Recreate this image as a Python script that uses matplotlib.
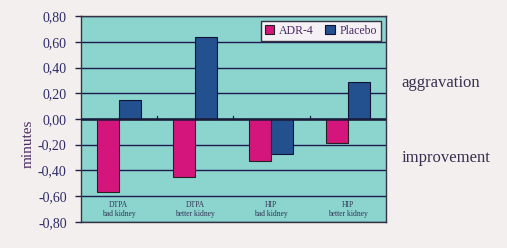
import matplotlib
matplotlib.use("Agg")
import matplotlib.pyplot as plt
import numpy as np

categories = ["DTPA\nbad kidney", "DTPA\nbetter kidney", "HIP\nbad kidney", "HIP\nbetter kidney"]
adr4 = [-0.57, -0.45, -0.33, -0.19]
placebo = [0.15, 0.64, -0.27, 0.29]
yticks = [-0.80, -0.60, -0.40, -0.20, 0.00, 0.20, 0.40, 0.60, 0.80]
ytick_labels = ["-0,80", "-0,60", "-0,40", "-0,20", "0,00", "0,20", "0,40", "0,60", "0,80"]

serif = "Liberation Serif"
navy = "#2e2a66"
bg = "#f3efee"

fig = plt.figure(figsize=(5.07, 2.48), dpi=100, facecolor=bg)
ax = fig.add_axes([0.159, 0.106, 0.602, 0.829])
ax.set_facecolor("#8cd5cf")

x = np.arange(len(categories))
w = 0.29
ax.bar(x - w / 2, adr4, w, color="#d4167c", edgecolor="#222222", linewidth=0.8, label="ADR-4", zorder=3)
ax.bar(x + w / 2, placebo, w, color="#23508f", edgecolor="#111133", linewidth=0.8, label="Placebo", zorder=3)

ax.set_xlim(-0.5, len(categories) - 0.5)
ax.set_ylim(-0.8, 0.8)
ax.set_yticks(yticks)
ax.set_yticklabels(ytick_labels, fontfamily=serif, fontsize=10, color=navy)
ax.tick_params(axis="y", length=4, width=1, color="#222244", pad=6)
ax.set_xticks([])
for yv in yticks:
    ax.axhline(yv, color="#1c1c50", linewidth=1.0, zorder=1)
ax.axhline(0, color="#1a1a3a", linewidth=1.8, zorder=4)
for b in np.arange(0.5, len(categories) - 0.5, 1.0):
    ax.plot([b, b], [0, 0.025], color="#1a1a3a", linewidth=0.9, zorder=4)

for i, c in enumerate(categories):
    ax.text(x[i], -0.705, c, ha="center", va="center", fontfamily=serif, fontsize=5.5,
            color="#333355", linespacing=1.1, zorder=5)

for s in ax.spines.values():
    s.set_color("#333344")
    s.set_linewidth(1.0)

ax.set_ylabel("minutes", fontfamily=serif, fontsize=11, color="#4a2a60")
ax.yaxis.set_label_coords(-0.152, 0.38)

leg = ax.legend(loc="upper right", ncol=2, prop={"family": serif, "size": 8.5},
                frameon=True, fancybox=False, edgecolor="#333344", facecolor="#f4f0f4",
                handlelength=0.8, handleheight=0.8, handletextpad=0.4, columnspacing=1.0,
                borderpad=0.3, borderaxespad=0.45, framealpha=1)
for t in leg.get_texts():
    t.set_color("#4a2a60")
leg.get_frame().set_linewidth(1.0)

fig.text(0.792, 0.665, "aggravation", fontfamily=serif, fontsize=12, color="#3a3050", va="center")
fig.text(0.792, 0.362, "improvement", fontfamily=serif, fontsize=12, color="#3a3050", va="center")

fig.savefig("out.png", dpi=100, facecolor=bg)
